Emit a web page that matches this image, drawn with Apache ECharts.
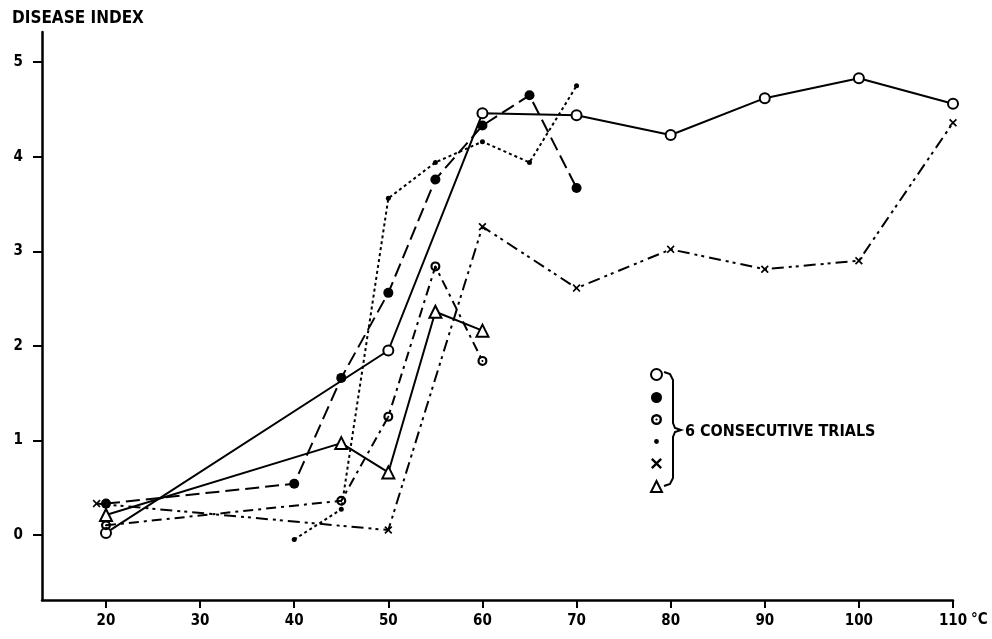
<!DOCTYPE html>
<html>
<head>
<meta charset="utf-8">
<script src="https://cdn.jsdelivr.net/npm/echarts@6/dist/echarts.min.js"></script>
<style>html,body{margin:0;padding:0;background:#fff}#c{width:992px;height:639px}</style>
</head>
<body>
<div id="c"></div>
<script>
// ---- data (temperature °C vs disease index) ----
const xTicks = [20, 30, 40, 50, 60, 70, 80, 90, 100, 110];
const yTicks = [0, 1, 2, 3, 4, 5];

const trial1X = [20, 50, 60, 70, 80, 90, 100, 110];
const trial1Y = [0.02, 1.95, 4.46, 4.44, 4.23, 4.62, 4.83, 4.56];

const trial2X = [20, 40, 45, 50, 55, 60, 65, 70];
const trial2Y = [0.33, 0.54, 1.66, 2.56, 3.76, 4.33, 4.65, 3.67];

const trial3X = [20, 45, 50, 55, 60];
const trial3Y = [0.10, 0.36, 1.25, 2.84, 1.84];

const trial4X = [40, 45, 50, 55, 60, 65, 70];
const trial4Y = [-0.05, 0.27, 3.56, 3.94, 4.16, 3.94, 4.75];

const trial5X = [19, 50, 60, 70, 80, 90, 100, 110];
const trial5Y = [0.33, 0.05, 3.26, 2.61, 3.02, 2.81, 2.90, 4.36];

const trial6X = [20, 45, 50, 55, 60];
const trial6Y = [0.21, 0.97, 0.66, 2.36, 2.16];

const trialNames = ['Trial 1', 'Trial 2', 'Trial 3', 'Trial 4', 'Trial 5', 'Trial 6'];

const FONT = '"DejaVu Sans Condensed", "DejaVu Sans", sans-serif';
const pair = (xs, ys) => xs.map((x, i) => [x, ys[i]]);

const SYM_RING = 'path://M5 0A5 5 0 1 0 5.001 0Z M5 2.2A2.8 2.8 0 1 1 4.999 2.2Z M5 4A1 1 0 1 0 5.001 4Z';
const SYM_X = 'path://M0 1.5L1.5 0L5 3.5L8.5 0L10 1.5L6.5 5L10 8.5L8.5 10L5 6.5L1.5 10L0 8.5L3.5 5Z';
const SYM_DOT_LEGEND = 'path://M0 0M10 10M5 2.8A2.2 2.2 0 1 0 5.001 2.8Z';

function lineSeries(name, xs, ys, symbol, size, fill, dash) {
  return {
    name: name,
    type: 'line',
    data: pair(xs, ys),
    symbol: symbol,
    symbolSize: size,
    showAllSymbol: true,
    itemStyle: { color: fill, borderColor: '#000', borderWidth: fill === '#fff' ? 2 : 0 },
    lineStyle: { color: '#000', width: 2, type: dash },
    emphasis: { disabled: true },
    z: 3
  };
}

const chart = echarts.init(document.getElementById('c'));
chart.setOption({
  animation: false,
  backgroundColor: '#fff',
  grid: { left: 42, right: 39, top: 32, bottom: 39 },
  xAxis: {
    type: 'value',
    min: 13.2,
    max: 110,
    axisLine: { onZero: false, lineStyle: { color: '#000', width: 2.5 } },
    axisTick: { customValues: xTicks, length: 8, lineStyle: { color: '#000', width: 2 } },
    axisLabel: { customValues: xTicks, margin: 14, color: '#000', fontFamily: FONT, fontWeight: 'bold', fontSize: 15 },
    splitLine: { show: false }
  },
  yAxis: {
    type: 'value',
    min: -0.69,
    max: 5.32,
    axisLine: { show: true, onZero: false, lineStyle: { color: '#000', width: 2.5 } },
    axisTick: { show: true, customValues: yTicks, length: 9, lineStyle: { color: '#000', width: 2 } },
    axisLabel: { customValues: yTicks, margin: 19, color: '#000', fontFamily: FONT, fontWeight: 'bold', fontSize: 15 },
    splitLine: { show: false }
  },
  legend: {
    orient: 'vertical',
    left: 645,
    top: 363,
    itemWidth: 11,
    itemHeight: 11,
    itemGap: 11,
    formatter: () => '',
    selectedMode: false,
    data: [
      { name: trialNames[0], icon: 'circle' },
      { name: trialNames[1], icon: 'circle' },
      { name: trialNames[2], icon: SYM_RING },
      { name: trialNames[3], icon: SYM_DOT_LEGEND },
      { name: trialNames[4], icon: SYM_X },
      { name: trialNames[5], icon: 'triangle' }
    ]
  },
  series: [
    lineSeries(trialNames[0], trial1X, trial1Y, 'circle', 10, '#fff', 'solid'),
    lineSeries(trialNames[1], trial2X, trial2Y, 'circle', 10, '#000', [14, 6]),
    lineSeries(trialNames[2], trial3X, trial3Y, SYM_RING, 10, '#000', [10, 5, 3, 5]),
    lineSeries(trialNames[3], trial4X, trial4Y, 'circle', 5, '#000', [3, 3]),
    lineSeries(trialNames[4], trial5X, trial5Y, SYM_X, 8, '#000', [12, 5, 3, 4, 3, 5]),
    lineSeries(trialNames[5], trial6X, trial6Y, 'triangle', 12, '#fff', 'solid')
  ],
  graphic: [
    { type: 'text', left: 12, top: 10, style: { text: 'DISEASE INDEX', fontFamily: FONT, fontWeight: 'bold', fontSize: 17, fill: '#000' } },
    { type: 'text', left: 971, top: 613, style: { text: '°C', fontFamily: FONT, fontWeight: 'bold', fontSize: 15, fill: '#000' } },
    { type: 'polyline', shape: { points: [[664,372],[670,374],[673,380],[673,423],[675,428],[681,430],[675,432],[673,437],[673,478],[670,484],[664,486]] },
      style: { fill: null, stroke: '#000', lineWidth: 2 } },
    { type: 'text', x: 685, y: 432, style: { text: '6 CONSECUTIVE TRIALS', fontFamily: FONT, fontWeight: 'bold', fontSize: 16, fill: '#000', verticalAlign: 'middle' } }
  ]
});
</script>
</body>
</html>
